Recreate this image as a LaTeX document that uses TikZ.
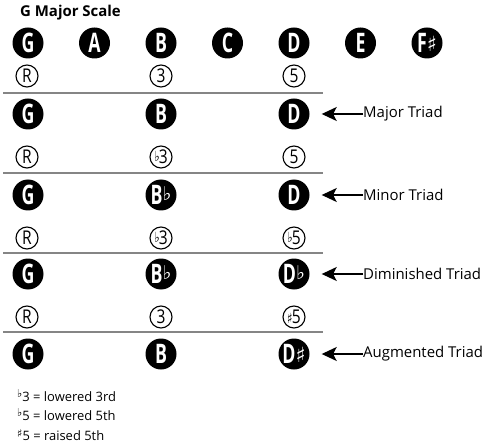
\documentclass[tikz,border=0pt]{standalone}
\usepackage{fontspec}
\setmainfont{Open Sans}
\newfontfamily\symfont{DejaVu Sans}
\usetikzlibrary{arrows.meta,positioning}

% note names are set narrow, accidentals from DejaVu Sans
\newcommand{\nt}[1]{\scalebox{0.66}[1]{#1}}
\newcommand{\iv}[1]{\scalebox{0.82}[1]{#1}}
\newcommand{\flt}{{\symfont\fontsize{19}{19}\selectfont\raisebox{4bp}{♭}}}
\newcommand{\shp}{{\symfont\fontsize{21}{21}\selectfont\raisebox{1bp}{♯}}}
\newcommand{\iflt}{{\symfont\fontsize{14}{14}\selectfont\raisebox{2bp}{♭}}}
\newcommand{\ishp}{{\symfont\fontsize{14}{14}\selectfont\raisebox{0bp}{♯}}}
\newcommand{\fflt}{{\symfont\fontsize{11}{11}\selectfont\raisebox{4bp}{♭}}}
\newcommand{\fshp}{{\symfont\fontsize{11}{11}\selectfont\raisebox{3bp}{♯}}}

\tikzset{
  note/.style={circle, fill=black, text=white, minimum size=31bp, inner sep=0pt,
    font=\fontsize{27}{27}\selectfont\bfseries},
  intv/.style={circle, draw=black, line width=1.1bp, minimum size=22bp, inner sep=0pt,
    font=\fontsize{19}{19}\selectfont},
  rule/.style={draw=black!48, line width=1.2bp},
  lbl/.style={anchor=west, inner sep=0pt, font=\fontsize{15}{15}\selectfont},
  foot/.style={anchor=west, inner sep=0pt, font=\fontsize{13}{13}\selectfont},
  tip/.style={-{Stealth[length=15bp,width=14bp,inset=3.5bp]}, line width=1.3bp, shorten >=12bp},
}

\begin{document}
\begin{tikzpicture}[x=1bp,y=-1bp]
\useasboundingbox (0,0) rectangle (490,447);
%% scale
\node[anchor=west, inner sep=0pt, font=\fontsize{15}{15}\selectfont\bfseries] (title) at (20,13) {G Major Scale};
\foreach \n/\lab/\acc [count=\i from 0] in {g/G/{},a/A/{},b/B/{},c/C/{},d/D/{},e/E/{},f/F/\shp}
  \node[note] (s\n) at (28+66.5*\i,43) {\nt{\lab}\acc};
%
% Row: major
\node[intv] (r1) at (27,76) {\iv{R}};
\node[intv] (t1) at (161,76) {\iv{3}};
\node[intv] (f1) at (294,76) {\iv{5}};
\draw[rule] (3,93) -- (323,93);
\node[note] (g1) at (28,114) {\nt{G}};
\node[note] (b1) at (161,114) {\nt{B}};
\node[note] (d1) at (294,114) {\nt{D}};
\node[lbl] (lmaj) at (363,114) {Major Triad};
\draw[tip] (lmaj.west) -- (d1.east);
% Row: minor
\node[intv] (r2) at (27,157) {\iv{R}};
\node[intv] (t2) at (161,157) {\iv{\iflt\kern-1bp3}};
\node[intv] (f2) at (294,157) {\iv{5}};
\draw[rule] (3,173) -- (323,173);
\node[note] (g2) at (28,195) {\nt{G}};
\node[note] (b2) at (161,195) {\nt{B}\flt};
\node[note] (d2) at (294,195) {\nt{D}};
\node[lbl] (lmin) at (363,195) {Minor Triad};
\draw[tip] (lmin.west) -- (d2.east);
% Row: diminished
\node[intv] (r3) at (27,238) {\iv{R}};
\node[intv] (t3) at (161,238) {\iv{\iflt\kern-1bp3}};
\node[intv] (f3) at (294,238) {\iv{\iflt\kern-1bp5}};
\draw[rule] (3,253) -- (323,253);
\node[note] (g3) at (28,274) {\nt{G}};
\node[note] (b3) at (161,274) {\nt{B}\flt};
\node[note] (d3) at (294,274) {\nt{D}\flt};
\node[lbl] (ldim) at (363,274) {Diminished Triad};
\draw[tip] (ldim.west) -- (d3.east);
% Row: augmented
\node[intv] (r4) at (27,317) {\iv{R}};
\node[intv] (t4) at (161,317) {\iv{3}};
\node[intv] (f4) at (294,317) {\iv{\ishp\kern-1bp5}};
\draw[rule] (3,332) -- (323,332);
\node[note] (g4) at (28,354) {\nt{G}};
\node[note] (b4) at (161,354) {\nt{B}};
\node[note] (d4) at (294,354) {\nt{D}\shp};
\node[lbl] (laug) at (363,354) {Augmented Triad};
\draw[tip] (laug.west) -- (d4.east);
%% key
\node[foot] (fn1) at (17,396) {\fflt3 = lowered 3rd};
\node[foot] (fn2) at (17,415) {\fflt5 = lowered 5th};
\node[foot] (fn3) at (17,435) {\fshp5 = raised 5th};
\end{tikzpicture}
\end{document}
